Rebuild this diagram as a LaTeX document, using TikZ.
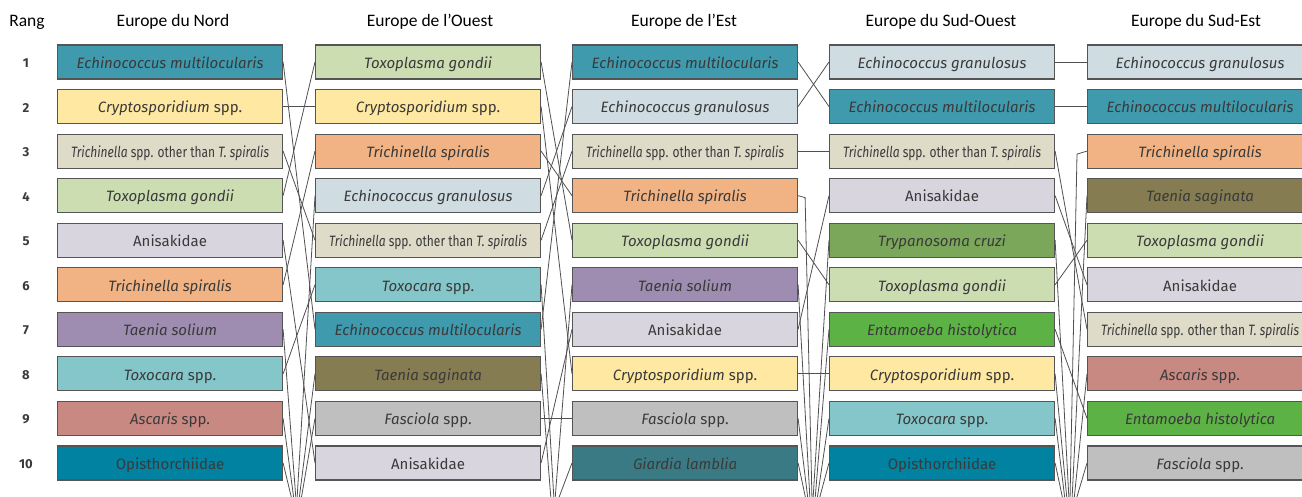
\documentclass[tikz,border=0pt]{standalone}
\usepackage{fontspec}
\setmainfont{Carlito}
\newfontfamily\boxfont{Fira Sans}
\newfontfamily\headfont{Carlito}
\usetikzlibrary{calc}
\definecolor{cEM}{HTML}{3F9AAE}
\definecolor{cEG}{HTML}{CFDDE3}
\definecolor{cCR}{HTML}{FFE9A2}
\definecolor{cTO}{HTML}{DEDBC8}
\definecolor{cTG}{HTML}{CCDDB2}
\definecolor{cAN}{HTML}{D8D5DE}
\definecolor{cTS}{HTML}{F2B384}
\definecolor{cSO}{HTML}{9E8DB0}
\definecolor{cTX}{HTML}{84C6C9}
\definecolor{cAS}{HTML}{C98983}
\definecolor{cOP}{HTML}{0082A0}
\definecolor{cSA}{HTML}{857C52}
\definecolor{cFA}{HTML}{BFBFBF}
\definecolor{cGI}{HTML}{3A7A85}
\definecolor{cTC}{HTML}{7BA75A}
\definecolor{cEH}{HTML}{5DB245}
\definecolor{bordergray}{HTML}{555555}
\definecolor{linegray}{HTML}{505050}
\definecolor{txtgray}{HTML}{3A3A3A}
\newcommand{\tro}{\scalebox{0.80}[1]{\textit{Trichinella} spp. other than \textit{T. spiralis}}}
\tikzset{
  sbox/.style={draw=bordergray, line width=1.1pt, minimum width=225pt, minimum height=34pt,
    inner sep=0pt, text height=12.5pt, text depth=0pt,
    font=\boxfont\fontsize{15}{18}\selectfont, text=txtgray, anchor=west},
  conn/.style={draw=linegray, line width=0.8pt},
  hdr/.style={font=\headfont\fontsize{17.5}{20}\selectfont, text=black, inner sep=0pt},
  rnk/.style={font=\boxfont\bfseries\fontsize{13}{15}\selectfont, text=txtgray, inner sep=0pt}
}
\begin{document}
\begin{tikzpicture}[x=1pt,y=-1pt]
\clip (0,0) rectangle (1302,497);
\fill[white] (0,0) rectangle (1302,497);
% headers
\node[hdr] (hr) at (27,22) {Rang};
\node[hdr] (h1) at (173,22) {Europe du Nord};
\node[hdr] (h2) at (430,22) {Europe de l’Ouest};
\node[hdr] (h3) at (684,22) {Europe de l’Est};
\node[hdr] (h4) at (941,22) {Europe du Sud-Ouest};
\node[hdr] (h5) at (1196,22) {Europe du Sud-Est};
% ranks
\foreach \r in {1,...,10}{
  \node[rnk] (rk\r) at (26,{63+44.55*(\r-1)}) {\r};
}
% column 1: Europe du Nord
\node[sbox, fill=cEM] (a1) at (57,62) {\textit{Echinococcus multilocularis}};
\node[sbox, fill=cCR] (a2) at (57,106.55) {\textit{Cryptosporidium} spp.};
\node[sbox, fill=cTO] (a3) at (57,151.1) {\tro};
\node[sbox, fill=cTG] (a4) at (57,195.65) {\textit{Toxoplasma gondii}};
\node[sbox, fill=cAN] (a5) at (57,240.2) {Anisakidae};
\node[sbox, fill=cTS] (a6) at (57,284.75) {\textit{Trichinella spiralis}};
\node[sbox, fill=cSO] (a7) at (57,329.3) {\textit{Taenia solium}};
\node[sbox, fill=cTX] (a8) at (57,373.85) {\textit{Toxocara} spp.};
\node[sbox, fill=cAS] (a9) at (57,418.4) {\textit{Ascaris} spp.};
\node[sbox, fill=cOP] (a10) at (57,462.95) {Opisthorchiidae};
% column 2: Europe de l'Ouest
\node[sbox, fill=cTG] (b1) at (315,62) {\textit{Toxoplasma gondii}};
\node[sbox, fill=cCR] (b2) at (315,106.55) {\textit{Cryptosporidium} spp.};
\node[sbox, fill=cTS] (b3) at (315,151.1) {\textit{Trichinella spiralis}};
\node[sbox, fill=cEG] (b4) at (315,195.65) {\textit{Echinococcus granulosus}};
\node[sbox, fill=cTO] (b5) at (315,240.2) {\tro};
\node[sbox, fill=cTX] (b6) at (315,284.75) {\textit{Toxocara} spp.};
\node[sbox, fill=cEM] (b7) at (315,329.3) {\textit{Echinococcus multilocularis}};
\node[sbox, fill=cSA] (b8) at (315,373.85) {\textit{Taenia saginata}};
\node[sbox, fill=cFA] (b9) at (315,418.4) {\textit{Fasciola} spp.};
\node[sbox, fill=cAN] (b10) at (315,462.95) {Anisakidae};
% column 3: Europe de l'Est
\node[sbox, fill=cEM] (c1) at (572,62) {\textit{Echinococcus multilocularis}};
\node[sbox, fill=cEG] (c2) at (572,106.55) {\textit{Echinococcus granulosus}};
\node[sbox, fill=cTO] (c3) at (572,151.1) {\tro};
\node[sbox, fill=cTS] (c4) at (572,195.65) {\textit{Trichinella spiralis}};
\node[sbox, fill=cTG] (c5) at (572,240.2) {\textit{Toxoplasma gondii}};
\node[sbox, fill=cSO] (c6) at (572,284.75) {\textit{Taenia solium}};
\node[sbox, fill=cAN] (c7) at (572,329.3) {Anisakidae};
\node[sbox, fill=cCR] (c8) at (572,373.85) {\textit{Cryptosporidium} spp.};
\node[sbox, fill=cFA] (c9) at (572,418.4) {\textit{Fasciola} spp.};
\node[sbox, fill=cGI] (c10) at (572,462.95) {\textit{Giardia lamblia}};
% column 4: Europe du Sud-Ouest
\node[sbox, fill=cEG] (d1) at (829,62) {\textit{Echinococcus granulosus}};
\node[sbox, fill=cEM] (d2) at (829,106.55) {\textit{Echinococcus multilocularis}};
\node[sbox, fill=cTO] (d3) at (829,151.1) {\tro};
\node[sbox, fill=cAN] (d4) at (829,195.65) {Anisakidae};
\node[sbox, fill=cTC] (d5) at (829,240.2) {\textit{Trypanosoma cruzi}};
\node[sbox, fill=cTG] (d6) at (829,284.75) {\textit{Toxoplasma gondii}};
\node[sbox, fill=cEH] (d7) at (829,329.3) {\textit{Entamoeba histolytica}};
\node[sbox, fill=cCR] (d8) at (829,373.85) {\textit{Cryptosporidium} spp.};
\node[sbox, fill=cTX] (d9) at (829,418.4) {\textit{Toxocara} spp.};
\node[sbox, fill=cOP] (d10) at (829,462.95) {Opisthorchiidae};
% column 5: Europe du Sud-Est
\node[sbox, fill=cEG] (e1) at (1087,62) {\textit{Echinococcus granulosus}};
\node[sbox, fill=cEM] (e2) at (1087,106.55) {\textit{Echinococcus multilocularis}};
\node[sbox, fill=cTS] (e3) at (1087,151.1) {\textit{Trichinella spiralis}};
\node[sbox, fill=cSA] (e4) at (1087,195.65) {\textit{Taenia saginata}};
\node[sbox, fill=cTG] (e5) at (1087,240.2) {\textit{Toxoplasma gondii}};
\node[sbox, fill=cAN] (e6) at (1087,284.75) {Anisakidae};
\node[sbox, fill=cTO] (e7) at (1087,329.3) {\tro};
\node[sbox, fill=cAS] (e8) at (1087,373.85) {\textit{Ascaris} spp.};
\node[sbox, fill=cEH] (e9) at (1087,418.4) {\textit{Entamoeba histolytica}};
\node[sbox, fill=cFA] (e10) at (1087,462.95) {\textit{Fasciola} spp.};
% bottom coordinates
\coordinate (o1a) at (292,500); \coordinate (o1b) at (294,500); \coordinate (o1c) at (296,500);
\coordinate (i1a) at (297,500); \coordinate (i1b) at (299,500); \coordinate (i1c) at (301,500);
\coordinate (o2a) at (551,500); \coordinate (o2b) at (554,500);
\coordinate (i2a) at (555,500); \coordinate (i2b) at (558,500);
\coordinate (o3a) at (806,500); \coordinate (o3b) at (808,500); \coordinate (o3c) at (810,500); \coordinate (o3d) at (812,500);
\coordinate (i3a) at (813,500); \coordinate (i3b) at (815,500); \coordinate (i3c) at (817,500); \coordinate (i3d) at (819,500);
\coordinate (o4a) at (1063,500); \coordinate (o4b) at (1065,500); \coordinate (o4c) at (1067,500); \coordinate (o4d) at (1069,500);
\coordinate (i4a) at (1070,500); \coordinate (i4b) at (1072,500); \coordinate (i4c) at (1074,500); \coordinate (i4d) at (1076,500);
% gap 1
\draw[conn] (a1.east) -- (b7.west);
\draw[conn] (a2.east) -- (b2.west);
\draw[conn] (a3.east) -- (b5.west);
\draw[conn] (a4.east) -- (b1.west);
\draw[conn] (a5.east) -- (b10.west);
\draw[conn] (a6.east) -- (b3.west);
\draw[conn] (a8.east) -- (b6.west);
\draw[conn] (a7.east) -- (o1c);
\draw[conn] (a9.east) -- (o1b);
\draw[conn] (a10.east) -- (o1a);
\draw[conn] (i1a) -- (b4.west);
\draw[conn] (i1b) -- (b8.west);
\draw[conn] (i1c) -- (b9.west);
% gap 2
\draw[conn] (b1.east) -- (c5.west);
\draw[conn] (b2.east) -- (c8.west);
\draw[conn] (b3.east) -- (c4.west);
\draw[conn] (b4.east) -- (c2.west);
\draw[conn] (b5.east) -- (c3.west);
\draw[conn] (b7.east) -- (c1.west);
\draw[conn] (b9.east) -- (c9.west);
\draw[conn] (b10.east) -- (c7.west);
\draw[conn] (b6.east) -- (o2b);
\draw[conn] (b8.east) -- (o2a);
\draw[conn] (i2a) -- (c6.west);
\draw[conn] (i2b) -- (c10.west);
% gap 3
\draw[conn] (c1.east) -- (d2.west);
\draw[conn] (c2.east) -- (d1.west);
\draw[conn] (c3.east) -- (d3.west);
\draw[conn] (c5.east) -- (d6.west);
\draw[conn] (c7.east) -- (d4.west);
\draw[conn] (c8.east) -- (d8.west);
\draw[conn] (c4.east) -- ++(7,2) -- (o3d);
\draw[conn] (c6.east) -- (o3c);
\draw[conn] (c9.east) -- (o3b);
\draw[conn] (c10.east) -- (o3a);
\draw[conn] (i3a) -- (d5.west);
\draw[conn] (i3b) -- (d7.west);
\draw[conn] (i3c) -- (d9.west);
\draw[conn] (i3d) -- (d10.west);
% gap 4
\draw[conn] (d1.east) -- (e1.west);
\draw[conn] (d2.east) -- (e2.west);
\draw[conn] (d3.east) -- (e7.west);
\draw[conn] (d4.east) -- (e6.west);
\draw[conn] (d6.east) -- (e5.west);
\draw[conn] (d7.east) -- (e9.west);
\draw[conn] (d5.east) -- (o4d);
\draw[conn] (d8.east) -- (o4c);
\draw[conn] (d9.east) -- (o4b);
\draw[conn] (d10.east) -- (o4a);
\draw[conn] (i4a) -- ($(e3.west)+(-10,3)$) -- (e3.west);
\draw[conn] (i4b) -- (e4.west);
\draw[conn] (i4c) -- (e8.west);
\draw[conn] (i4d) -- (e10.west);
\end{tikzpicture}
\end{document}
